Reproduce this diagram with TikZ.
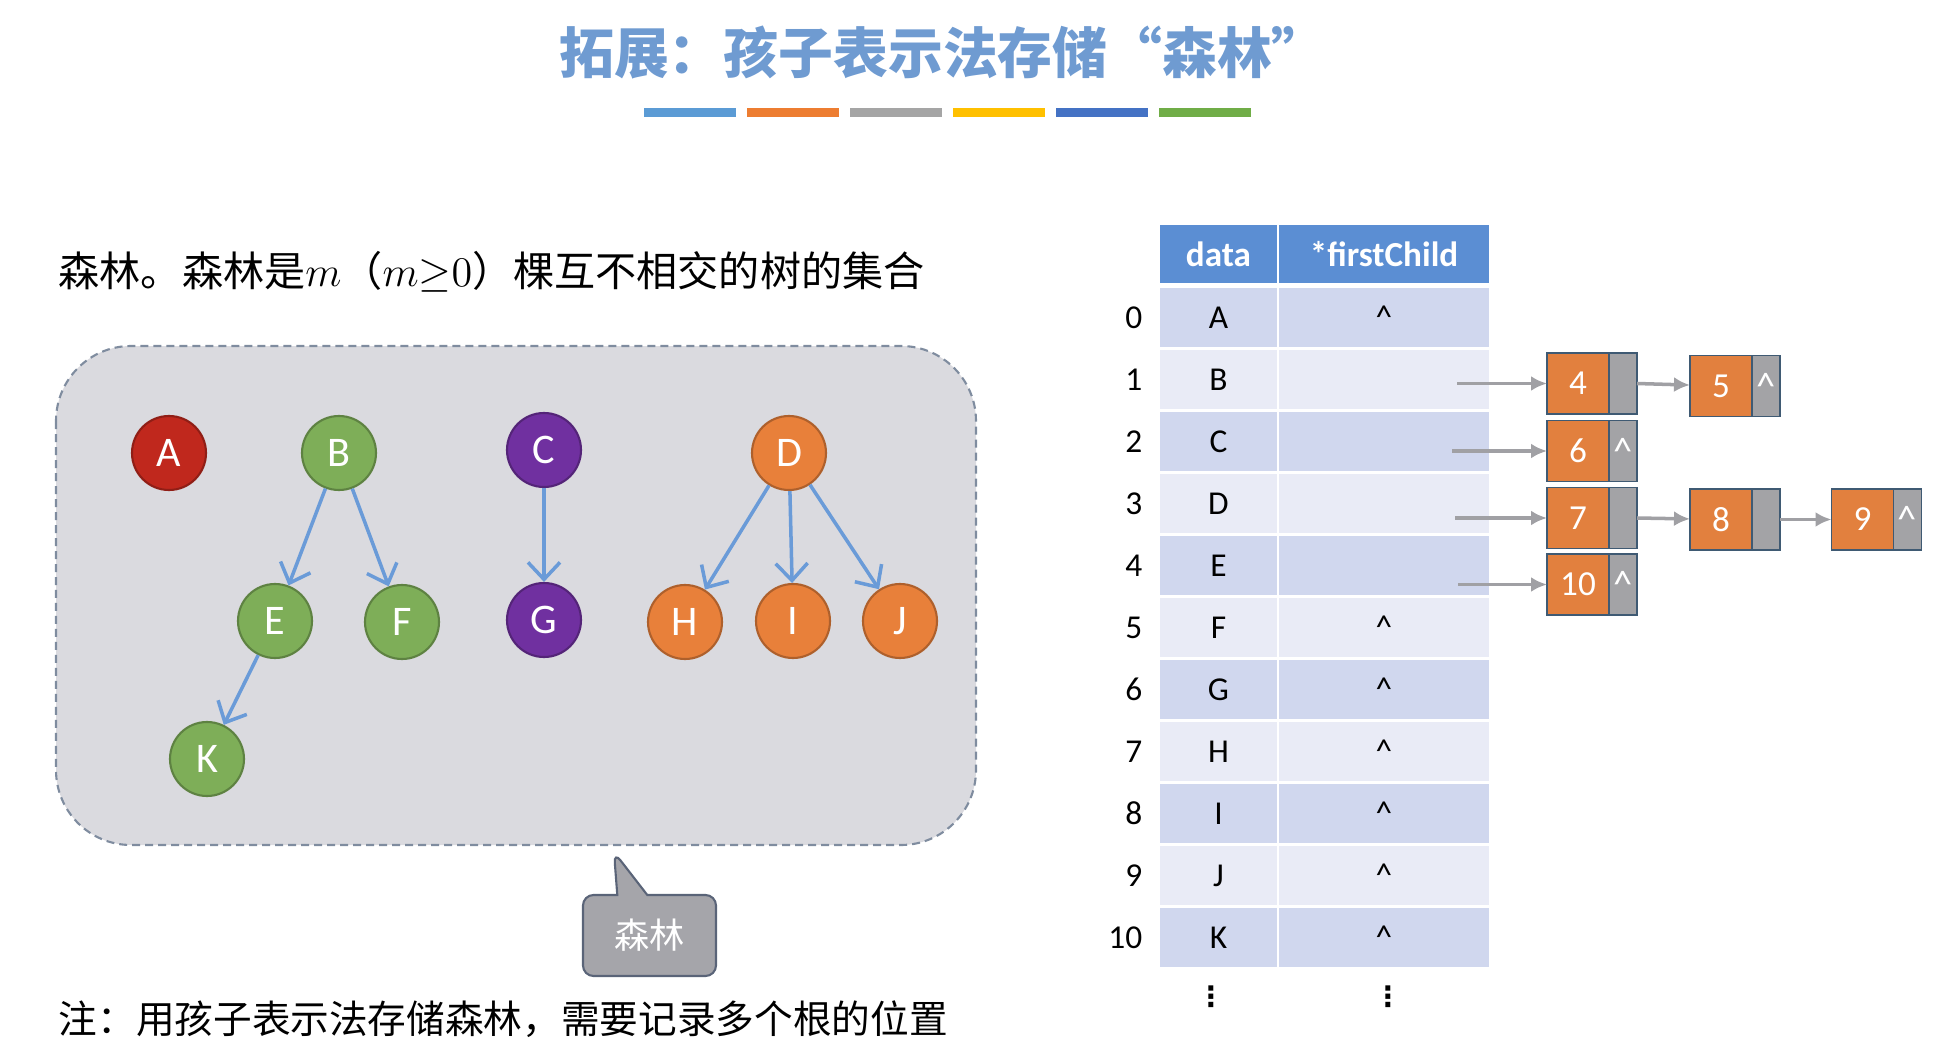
\documentclass[tikz,border=0pt]{standalone}
\usepackage{fontspec}
\setmainfont{Carlito}
\newfontfamily\cjk{Noto Sans CJK SC}
\newfontfamily\symfont{DejaVu Sans}
\usetikzlibrary{arrows.meta,shapes.callouts}

\definecolor{titleblue}{HTML}{6F9BD1}
\definecolor{barA}{HTML}{5B9BD5}
\definecolor{barB}{HTML}{ED7D31}
\definecolor{barC}{HTML}{A5A5A5}
\definecolor{barD}{HTML}{FFC000}
\definecolor{barE}{HTML}{4472C4}
\definecolor{barF}{HTML}{70AD47}
\definecolor{forestfill}{HTML}{DADADF}
\definecolor{forestline}{HTML}{7F8C9F}
\definecolor{edgeblue}{HTML}{6A9BD8}
\definecolor{treered}{HTML}{C0281D}
\definecolor{treegreen}{HTML}{7EAE58}
\definecolor{treepurple}{HTML}{7030A0}
\definecolor{treeorange}{HTML}{E8803A}
\definecolor{headblue}{HTML}{5B8ED3}
\definecolor{rowdark}{HTML}{D0D7EE}
\definecolor{rowlight}{HTML}{E9EBF6}
\definecolor{listorange}{HTML}{E2803E}
\definecolor{listgray}{HTML}{A3A3A6}
\definecolor{listline}{HTML}{3F5A73}
\definecolor{ptrgray}{HTML}{A0A0A4}
\definecolor{bubblefill}{HTML}{A5A5AA}
\definecolor{bubbleline}{HTML}{5A6478}

\newcommand\nullmark{\textasciicircum}

\begin{document}
\begin{tikzpicture}[
    treeedge/.style={-{Straight Barb[length=1.7mm,width=3.2mm]},line width=1pt,draw=edgeblue},
    ptrarrow/.style={-{Latex[length=1.6mm,width=1.5mm]},line width=1pt,draw=ptrgray},
    vertex/.style={circle,minimum size=0.74cm,inner sep=0pt,line width=0.6pt,
      fill=#1,draw=#1!75!black,text=white,font=\fontsize{12}{14}\selectfont},
    bar/.style={minimum width=0.92cm,minimum height=0.09cm,inner sep=0pt},
    head/.style={fill=headblue,text=white,minimum width=1.17cm,minimum height=0.58cm,
      inner sep=0pt,font=\fontsize{10}{12}\selectfont\bfseries},
    cell/.style={minimum width=1.17cm,minimum height=0.59cm,inner sep=0pt,
      font=\fontsize{9.5}{11}\selectfont},
    idx/.style={anchor=east,inner sep=0pt,font=\fontsize{9.5}{11}\selectfont},
    lnode/.style={fill=listorange,draw=listline,line width=0.5pt,text=white,
      minimum width=0.62cm,minimum height=0.61cm,inner sep=0pt,outer sep=0pt,
      font=\fontsize{10}{12}\selectfont},
    lptr/.style={fill=listgray,draw=listline,line width=0.5pt,text=white,anchor=west,
      minimum width=0.28cm,minimum height=0.61cm,inner sep=0pt,outer sep=0pt,
      font=\fontsize{11}{12}\selectfont},
    bubble/.style={rectangle callout,fill=bubblefill,draw=bubbleline,line width=0.6pt,
      rounded corners=3pt,minimum width=1.33cm,minimum height=0.81cm,
      callout pointer width=0.3cm,text=white,font=\cjk\fontsize{10}{12}\selectfont},
    more/.style={inner sep=0pt,font=\symfont\bfseries\fontsize{8}{8}\selectfont}
  ]
    \useasboundingbox (0,0) rectangle (19.39,-10.54);

    % title and colour strip
    \node[text=titleblue,font=\cjk\bfseries\fontsize{15.6}{18}\selectfont] (title) at (9.43,-0.53)
      {拓展：孩子表示法存储“森林”};
    \foreach \c [count=\k] in {barA,barB,barC,barD,barE,barF}
      \node[bar,fill=\c] (bar\k) at ({6.895+1.031*(\k-1)},-1.125) {};

    \node[anchor=west,inner sep=0pt,font=\cjk\fontsize{11.7}{14}\selectfont] (def) at (0.58,-2.72)
      {森林。森林是$m$（$m{\geq}0$）棵互不相交的树的集合};

    % the forest
    \draw[fill=forestfill,draw=forestline,line width=0.6pt,dash pattern=on 0.8mm off 0.5mm,
      rounded corners=0.75cm] (0.56,-3.46) rectangle (9.76,-8.45);

    \node[vertex=treered] (A) at (1.69,-4.53) {A};
    \node[vertex=treegreen] (B) at (3.39,-4.53) {B};
    \node[vertex=treepurple] (C) at (5.44,-4.50) {C};
    \node[vertex=treeorange] (D) at (7.89,-4.53) {D};
    \node[vertex=treegreen] (E) at (2.75,-6.21) {E};
    \node[vertex=treegreen] (F) at (4.02,-6.22) {F};
    \node[vertex=treepurple] (G) at (5.44,-6.20) {G};
    \node[vertex=treeorange] (H) at (6.85,-6.22) {H};
    \node[vertex=treeorange] (I) at (7.93,-6.21) {I};
    \node[vertex=treeorange] (J) at (9.00,-6.21) {J};
    \node[vertex=treegreen] (K) at (2.07,-7.59) {K};
    \draw[treeedge] (B) -- (E);
    \draw[treeedge] (B) -- (F);
    \draw[treeedge] (E) -- (K);
    \draw[treeedge] (C) -- (G);
    \draw[treeedge] (D) -- (H);
    \draw[treeedge] (D) -- (I);
    \draw[treeedge] (D) -- (J);

    \node[bubble,callout absolute pointer={(6.14,-8.52)}] (tag) at (6.495,-9.355) {森林};

    \node[anchor=west,inner sep=0pt,font=\cjk\fontsize{11}{13}\selectfont] (note) at (0.58,-10.19)
      {注：用孩子表示法存储森林，需要记录多个根的位置};

    % the table
    \node[head] (hdata) at (12.185,-2.54) {data};
    \node[head,minimum width=2.10cm] (hfirst) at (13.84,-2.54) {*firstChild};
    \foreach \i/\l/\c/\f in {0/A/\nullmark/rowdark,1/B//rowlight,2/C//rowdark,3/D//rowlight,
        4/E//rowdark,5/F/\nullmark/rowlight,6/G/\nullmark/rowdark,7/H/\nullmark/rowlight,
        8/I/\nullmark/rowdark,9/J/\nullmark/rowlight,10/K/\nullmark/rowdark} {
      \pgfmathsetmacro\yy{-3.175-0.62*\i}
      \node[idx] (i\i) at (11.43,\yy) {\i};
      \node[cell,fill=\f] (d\i) at (12.185,\yy) {\l};
      \node[cell,fill=\f,minimum width=2.10cm] (f\i) at (13.84,\yy) {\c};
    }
    \node[more] (vd) at (12.11,-9.97) {⋮};
    \node[more] (vf) at (13.88,-9.97) {⋮};

    % child lists
    \node[lnode] (n4) at (15.78,-3.835) {4};
    \node[lptr] (n4p) at (n4.east) {};
    \node[lnode] (n5) at (17.21,-3.86) {5};
    \node[lptr] (n5p) at (n5.east) {\nullmark};
    \node[lnode] (n6) at (15.78,-4.51) {6};
    \node[lptr] (n6p) at (n6.east) {\nullmark};
    \node[lnode] (n7) at (15.78,-5.18) {7};
    \node[lptr] (n7p) at (n7.east) {};
    \node[lnode] (n8) at (17.21,-5.195) {8};
    \node[lptr] (n8p) at (n8.east) {};
    \node[lnode] (n9) at (18.625,-5.195) {9};
    \node[lptr] (n9p) at (n9.east) {\nullmark};
    \node[lnode] (n10) at (15.78,-5.845) {10};
    \node[lptr] (n10p) at (n10.east) {\nullmark};

    \coordinate (s1) at (14.57,-3.835);
    \coordinate (s2) at (14.52,-4.51);
    \coordinate (s3) at (14.55,-5.18);
    \coordinate (s4) at (14.58,-5.845);
    \draw[ptrarrow] (s1) -- (n4);
    \draw[ptrarrow] (s2) -- (n6);
    \draw[ptrarrow] (s3) -- (n7);
    \draw[ptrarrow] (s4) -- (n10);
    \draw[ptrarrow] (n4p.east) -- (n5);
    \draw[ptrarrow] (n7p.east) -- (n8);
    \draw[ptrarrow] (n8p.east) -- (n9);
\end{tikzpicture}
\end{document}
